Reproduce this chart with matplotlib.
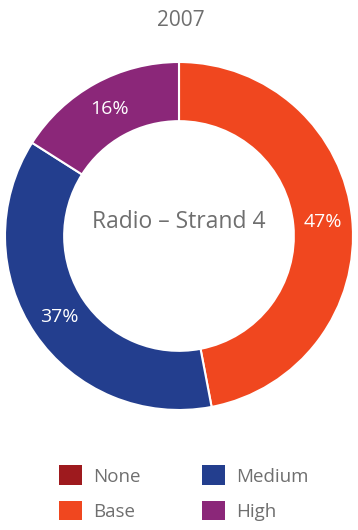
import matplotlib
matplotlib.use("Agg")
import matplotlib.pyplot as plt
from matplotlib.patches import Patch

plt.rcParams['font.family'] = ['Open Sans', 'DejaVu Sans']

title = "2007"
center_label = "Radio – Strand 4"
categories = ["None", "Base", "Medium", "High"]
shares = [0, 47, 37, 16]
colors = ["#9e1a1e", "#f0471f", "#233e8e", "#8b2779"]
text_grey = "#6f6f6f"

W, H = 358, 530
fig = plt.figure(figsize=(W / 100, H / 100), dpi=100)

# donut axes: 348 px square, top edge at 62 px
size = 348
ax = fig.add_axes([5 / W, (H - 62 - size) / H, size / W, size / H])

def pct_label(p):
    return f"{p:.0f}%" if p > 0 else ""

wedges, _, autotexts = ax.pie(
    shares,
    colors=colors,
    startangle=90,
    counterclock=False,
    radius=1.0,
    autopct=pct_label,
    pctdistance=0.83,
    wedgeprops=dict(width=0.34, edgecolor="white", linewidth=1.5),
    textprops=dict(color="white", fontsize=14),
)
ax.set_xlim(-1, 1)
ax.set_ylim(-1, 1)
ax.set_aspect("equal")
ax.axis("off")

ax.text(0, 0.08, center_label, ha="center", va="center",
        fontsize=16.5, color=text_grey)

fig.text(0.505, 1 - 20 / H, title, ha="center", va="center",
         fontsize=15, color=text_grey)

handles = [Patch(facecolor=c, edgecolor="none") for c in colors]
leg = fig.legend(
    handles, categories, ncol=2, loc="center",
    bbox_to_anchor=(0.5 + 5 / W, 1 - 493 / H),
    frameon=False, fontsize=13.5,
    handlelength=1.22, handleheight=1.22,
    handletextpad=0.6, columnspacing=3.3, labelspacing=0.8,
)
for t in leg.get_texts():
    t.set_color(text_grey)

fig.savefig("out.png", dpi=100)
